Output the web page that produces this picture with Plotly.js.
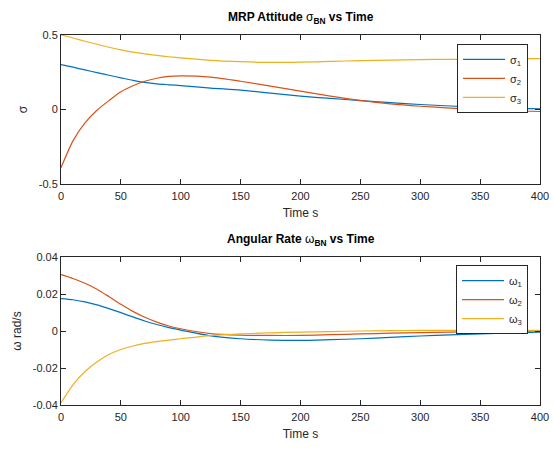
<!DOCTYPE html>
<html>
<head>
<meta charset="utf-8">
<script src="https://cdn.plot.ly/plotly-3.0.1.min.js"></script>
<style>html,body{margin:0;padding:0;background:#fff;}#chart{width:554px;height:449px;}</style>
</head>
<body>
<div id="chart"></div>
<script>
const time = [0, 10, 20, 30, 40, 50, 60, 70, 80, 90, 100, 125, 150, 175, 200, 225, 250, 275, 300, 325, 350, 375, 400];

const sigma1 = [0.302, 0.284, 0.266, 0.248, 0.230, 0.213, 0.196, 0.182, 0.172, 0.166, 0.161, 0.144, 0.130, 0.110, 0.090, 0.075, 0.060, 0.046, 0.034, 0.024, 0.016, 0.009, 0.004];
const sigma2 = [-0.390, -0.210, -0.090, -0.005, 0.060, 0.120, 0.160, 0.190, 0.210, 0.222, 0.226, 0.218, 0.190, 0.157, 0.123, 0.090, 0.061, 0.038, 0.022, 0.010, 0.000, -0.007, -0.013];
const sigma3 = [0.500, 0.480, 0.458, 0.438, 0.418, 0.400, 0.385, 0.373, 0.363, 0.354, 0.347, 0.330, 0.321, 0.316, 0.318, 0.323, 0.328, 0.332, 0.335, 0.337, 0.339, 0.341, 0.342];

const omega1 = [0.0175, 0.0169, 0.0157, 0.0141, 0.0121, 0.0099, 0.0076, 0.0054, 0.0035, 0.0018, 0.0005, -0.0026, -0.0042, -0.0049, -0.0051, -0.0047, -0.0042, -0.0034, -0.0027, -0.0021, -0.0015, -0.0010, -0.0006];
const omega2 = [0.0305, 0.0284, 0.0258, 0.0226, 0.0186, 0.0144, 0.0106, 0.0074, 0.0048, 0.0027, 0.0012, -0.0014, -0.0022, -0.0024, -0.0024, -0.0020, -0.0016, -0.0012, -0.0009, -0.0006, -0.0004, -0.0002, 0.0000];
const omega3 = [-0.0388, -0.0291, -0.0219, -0.0167, -0.0127, -0.0100, -0.0081, -0.0067, -0.0057, -0.0049, -0.0042, -0.0025, -0.0015, -0.0010, -0.0006, -0.0003, 0.0000, 0.0002, 0.0003, 0.0003, 0.0003, 0.0003, 0.0003];

const sigmaNames = ['σ<sub>1</sub>', 'σ<sub>2</sub>', 'σ<sub>3</sub>'];
const omegaNames = ['ω<sub>1</sub>', 'ω<sub>2</sub>', 'ω<sub>3</sub>'];
const colors = ['#0072BD', '#D95319', '#EDB120'];

const xTicks = [0, 50, 100, 150, 200, 250, 300, 350, 400];
const sigmaTicks = [-0.5, 0, 0.5];
const sigmaTickText = ['-0.5', '0', '0.5'];
const omegaTicks = [-0.04, -0.02, 0, 0.02, 0.04];
const omegaTickText = ['-0.04', '-0.02', '0', '0.02', '0.04'];

const FONT = '"Liberation Sans", Arial, Helvetica, sans-serif';
const INK = '#262626';

const traces = [];
[sigma1, sigma2, sigma3].forEach((ys, i) => {
  traces.push({x: time, y: ys, type: 'scatter', mode: 'lines', name: sigmaNames[i],
    line: {color: colors[i], width: 1.2, shape: 'spline', smoothing: 0.7},
    xaxis: 'x', yaxis: 'y', legend: 'legend'});
});
[omega1, omega2, omega3].forEach((ys, i) => {
  traces.push({x: time, y: ys, type: 'scatter', mode: 'lines', name: omegaNames[i],
    line: {color: colors[i], width: 1.2, shape: 'spline', smoothing: 0.7},
    xaxis: 'x2', yaxis: 'y2', legend: 'legend2'});
});

function xax(anchor) {
  return {
    anchor: anchor, domain: [0, 1], range: [0, 400],
    tickvals: xTicks, ticktext: xTicks.map(String),
    ticks: 'inside', ticklen: 5, tickcolor: INK, tickwidth: 1,
    showline: true, linecolor: INK, linewidth: 1, mirror: 'ticks',
    showgrid: false, zeroline: false, ticklabelstandoff: 2,
    tickfont: {family: FONT, size: 11, color: INK},
    title: {text: 'Time s', font: {family: FONT, size: 12, color: INK}, standoff: 7}
  };
}
function yax(anchor, domain, range, vals, text, title) {
  return {
    anchor: anchor, domain: domain, range: range,
    tickvals: vals, ticktext: text,
    ticks: 'inside', ticklen: 5, tickcolor: INK, tickwidth: 1,
    showline: true, linecolor: INK, linewidth: 1, mirror: 'ticks',
    showgrid: false, zeroline: false,
    tickfont: {family: FONT, size: 11, color: INK},
    title: {text: title, font: {family: FONT, size: 12, color: INK}, standoff: 8}
  };
}

const legendBase = {
  xref: 'paper', yref: 'paper', xanchor: 'right', yanchor: 'top',
  bgcolor: '#ffffff', bordercolor: INK, borderwidth: 1, itemwidth: 42,
  font: {family: FONT, size: 11, color: INK}, tracegroupgap: 0
};

const layout = {
  width: 554, height: 449,
  margin: {l: 61, r: 14, t: 35, b: 44},
  paper_bgcolor: '#ffffff', plot_bgcolor: '#ffffff',
  showlegend: true,
  xaxis: xax('y'),
  yaxis: yax('x', [0.597, 1], [-0.5, 0.5], sigmaTicks, sigmaTickText, 'σ'),
  xaxis2: xax('y2'),
  yaxis2: yax('x2', [0, 0.4], [-0.04, 0.04], omegaTicks, omegaTickText, 'ω rad/s'),
  legend: Object.assign({}, legendBase, {x: 0.975, y: 0.976}),
  legend2: Object.assign({}, legendBase, {x: 0.975, y: 0.378}),
  annotations: [
    {xref: 'paper', yref: 'paper', x: 0.5, y: 1.046, xanchor: 'center', yanchor: 'middle', showarrow: false,
     text: '<b>MRP Attitude </b>σ<sub><b>BN</b></sub><b> vs Time</b>', font: {family: FONT, size: 12, color: '#000'}},
    {xref: 'paper', yref: 'paper', x: 0.5, y: 0.446, xanchor: 'center', yanchor: 'middle', showarrow: false,
     text: '<b>Angular Rate </b>ω<sub><b>BN</b></sub><b> vs Time</b>', font: {family: FONT, size: 12, color: '#000'}}
  ]
};

Plotly.newPlot('chart', traces, layout, {displayModeBar: false, staticPlot: true});
</script>
</body>
</html>
